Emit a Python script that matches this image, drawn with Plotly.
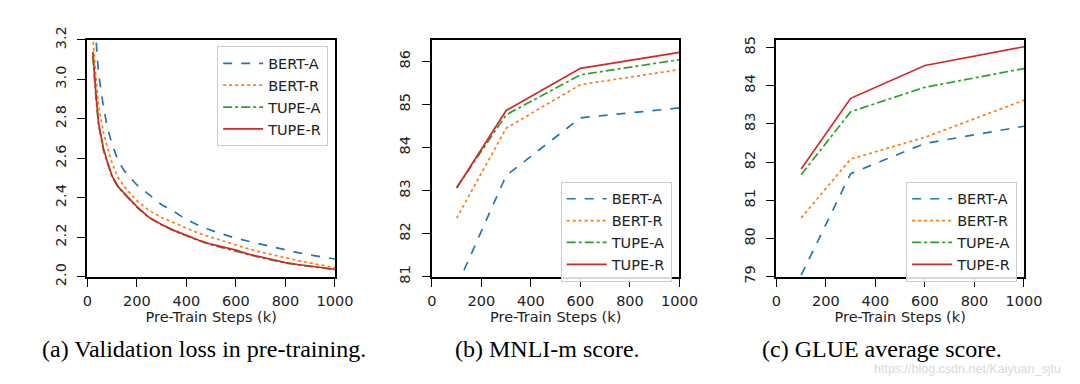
import plotly.graph_objects as go

# (a) validation loss
loss_steps = [22, 28, 35, 45, 55, 65, 80, 100, 125, 150, 200, 250, 300, 350, 400,
              450, 500, 550, 600, 650, 700, 750, 800, 850, 900, 950, 1000]
loss_bert_a = [3.55, 3.36, 3.20, 3.03, 2.93, 2.86, 2.76, 2.67, 2.585, 2.535, 2.465, 2.415,
               2.365, 2.33, 2.29, 2.26, 2.235, 2.215, 2.195, 2.18, 2.165, 2.15, 2.135,
               2.122, 2.11, 2.10, 2.09]
loss_bert_r = [3.22, 3.10, 3.00, 2.87, 2.79, 2.73, 2.66, 2.575, 2.50, 2.455, 2.385, 2.335,
               2.30, 2.272, 2.245, 2.22, 2.20, 2.18, 2.16, 2.142, 2.125, 2.11, 2.094,
               2.082, 2.07, 2.058, 2.046]
loss_tupe_a = [3.12, 3.00, 2.90, 2.77, 2.70, 2.64, 2.58, 2.505, 2.452, 2.418, 2.352, 2.298,
               2.262, 2.232, 2.207, 2.183, 2.162, 2.147, 2.131, 2.113, 2.097, 2.083, 2.07,
               2.06, 2.051, 2.043, 2.036]
loss_tupe_r = [3.14, 3.02, 2.92, 2.78, 2.71, 2.65, 2.585, 2.51, 2.455, 2.42, 2.355, 2.30,
               2.265, 2.235, 2.21, 2.185, 2.165, 2.15, 2.135, 2.115, 2.10, 2.085, 2.072,
               2.062, 2.053, 2.045, 2.038]

# (b) MNLI-m and (c) GLUE
score_steps = [100, 300, 600, 1000]
mnli_bert_a = [80.77, 83.35, 84.69, 84.92]
mnli_bert_r = [82.36, 84.45, 85.46, 85.81]
mnli_tupe_a = [83.07, 84.76, 85.69, 86.04]
mnli_tupe_r = [83.06, 84.86, 85.84, 86.21]
glue_bert_a = [79.04, 81.70, 82.49, 82.94]
glue_bert_r = [80.54, 82.08, 82.65, 83.62]
glue_tupe_a = [81.67, 83.32, 83.96, 84.45]
glue_tupe_r = [81.82, 83.67, 84.53, 85.02]

names = ['BERT-A', 'BERT-R', 'TUPE-A', 'TUPE-R']
colors = ['#1f77b4', '#ff7f0e', '#2ca02c', '#d62728']
dashes = ['dash', 'dot', 'dashdot', 'solid']
captions = ['(a) Validation loss in pre-training.', '(b) MNLI-m score.',
            '(c) GLUE average score.']

W, H = 1080, 384
panels = [
    (loss_steps, [loss_bert_a, loss_bert_r, loss_tupe_a, loss_tupe_r]),
    (score_steps, [mnli_bert_a, mnli_bert_r, mnli_tupe_a, mnli_tupe_r]),
    (score_steps, [glue_bert_a, glue_bert_r, glue_tupe_a, glue_tupe_r]),
]
# pixel boxes of the three plot areas (left, right)
x_px = [(76, 329), (428, 681), (780, 1033)]
y_px = (19, 271)
y_ranges = [[2.0, 3.2], [81, 86.5], [79, 85.2]]
y_ticks = [[2.0, 2.2, 2.4, 2.6, 2.8, 3.0, 3.2], [81, 82, 83, 84, 85, 86],
           [79, 80, 81, 82, 83, 84, 85]]
y_fmt = ['.1f', 'd', 'd']
legend_box = [(322, 26), (673, 170), (1026, 170)]  # right, top in px
caption_x = [195, 546, 888]

font = 'DejaVu Sans'
fs = 14.5
fig = go.Figure()
layout = dict(width=W, height=H, margin=dict(l=0, r=0, t=0, b=0),
              paper_bgcolor='white', plot_bgcolor='white',
              font=dict(family=font, size=fs, color='#222222'))

for i, (xs, series) in enumerate(panels):
    sfx = '' if i == 0 else str(i + 1)
    for name, ys, c, d in zip(names, series, colors, dashes):
        fig.add_trace(go.Scatter(
            x=xs, y=ys, name=name, mode='lines',
            line=dict(color=c, dash=d, width=1.7),
            xaxis='x' + sfx, yaxis='y' + sfx, legend='legend' + sfx))
    axis_common = dict(showline=True, linecolor='black', linewidth=1.8, mirror=True,
                       ticks='outside', ticklen=8, tickwidth=1.3, tickcolor='black',
                       showgrid=False, zeroline=False,
                       tickfont=dict(family=font, size=fs, color='#222222'))
    layout['xaxis' + sfx] = dict(
        axis_common, domain=[x_px[i][0] / W, x_px[i][1] / W], range=[0, 1000],
        tickvals=[0, 200, 400, 600, 800, 1000], anchor='y' + sfx,
        ticklabelstandoff=2,
        title=dict(text='Pre-Train Steps (k)', standoff=0,
                   font=dict(family=font, size=fs, color='#222222')))
    layout['yaxis' + sfx] = dict(
        axis_common, domain=[1 - y_px[1] / H, 1 - y_px[0] / H], range=y_ranges[i],
        tickvals=y_ticks[i], tickformat=y_fmt[i], tickangle=-90, anchor='x' + sfx,
        ticklabelstandoff=6)
    layout['legend' + sfx] = dict(
        x=legend_box[i][0] / W, y=1 - legend_box[i][1] / H, xanchor='right', yanchor='top',
        bgcolor='rgba(255,255,255,0.85)', bordercolor='#cccccc', borderwidth=1,
        font=dict(family=font, size=fs, color='#222222'), tracegroupgap=0,
        itemwidth=40)
    fig.add_annotation(text=captions[i], x=caption_x[i] / W, y=1 - 348 / H,
                       xref='paper', yref='paper', showarrow=False,
                       xanchor='center', yanchor='middle',
                       font=dict(family='Liberation Serif', size=24, color='black'))

fig.add_annotation(text='https://blog.csdn.net/Kaiyuan_sjtu', x=1073 / W, y=1 - 369 / H,
                   xref='paper', yref='paper', showarrow=False, xanchor='right',
                   yanchor='middle',
                   font=dict(family='Liberation Sans', size=12.5, color='#d9d9d9'))

fig.update_layout(**layout)
fig.write_html('out.html')
